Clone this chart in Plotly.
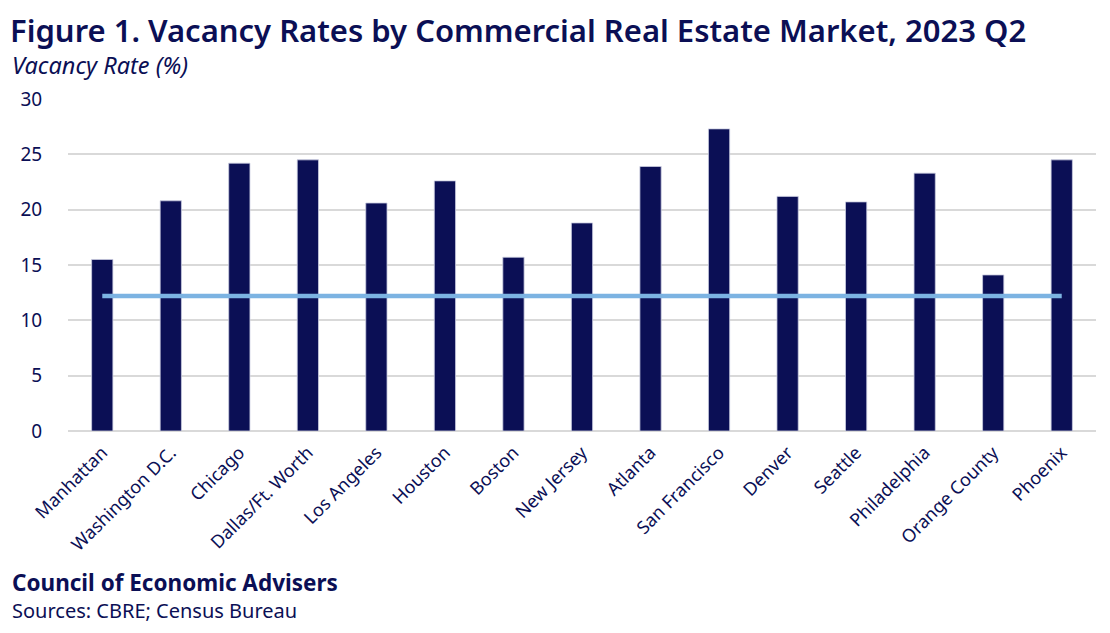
import plotly.graph_objects as go

markets = ["Manhattan", "Washington D.C.", "Chicago", "Dallas/Ft. Worth", "Los Angeles",
           "Houston", "Boston", "New Jersey", "Atlanta", "San Francisco", "Denver",
           "Seattle", "Philadelphia", "Orange County", "Phoenix"]
vacancy = [15.5, 20.8, 24.2, 24.5, 20.6, 22.6, 15.7, 18.8, 23.9, 27.3, 21.2, 20.7, 23.3, 14.1, 24.5]
reference_rate = 12.2

NAVY = "#0b0f55"
FONT = "Noto Sans"

# page body has an 8px default margin; offsets below compensate
OFF = 8
W, H = 1110, 633
L, T, R, B = 66 - OFF, 99 - OFF, W - (1096 - OFF), H - (431 - OFF)

fig = go.Figure()
fig.add_trace(go.Bar(
    x=markets, y=vacancy,
    marker=dict(color=NAVY, line=dict(color="#c9cbe0", width=0.8)),
    showlegend=False,
))
fig.add_trace(go.Scatter(
    x=markets, y=[reference_rate] * len(markets),
    mode="lines", line=dict(color="#7cb3e2", width=4.5),
    showlegend=False,
))

fig.update_layout(
    width=W, height=H,
    paper_bgcolor="white", plot_bgcolor="white",
    margin=dict(l=L, r=R, t=T, b=B),
    bargap=0.69,
    font=dict(family=FONT, color=NAVY),
    xaxis=dict(
        tickangle=-45, tickfont=dict(size=18, color=NAVY, family=FONT),
        ticks="outside", ticklen=3, tickcolor="rgba(0,0,0,0)",
        showline=False, showgrid=False,
    ),
    yaxis=dict(
        range=[0, 30], tickvals=[0, 5, 10, 15, 20, 25, 30],
        tickfont=dict(size=19, color=NAVY, family=FONT),
        showgrid=True, gridcolor="#d9d9d9", gridwidth=1.5,
        zeroline=True, zerolinecolor="#d9d9d9", zerolinewidth=1.5,
        ticks="outside", ticklen=21, tickcolor="rgba(0,0,0,0)",
        showline=False,
    ),
)

plot_w, plot_h = W - L - R, H - T - B
def px(xp):
    return (xp - OFF - L) / plot_w
def py(yp):
    return (H - B - (yp - OFF)) / plot_h

fig.add_annotation(text="Figure 1. Vacancy Rates by Commercial Real Estate Market, 2023 Q2",
                   xref="paper", yref="paper", x=px(6), y=py(30),
                   xanchor="left", yanchor="middle", showarrow=False,
                   font=dict(size=31, color=NAVY, family=FONT, weight=600))
fig.add_annotation(text="<i>Vacancy Rate (%)</i>",
                   xref="paper", yref="paper", x=px(8), y=py(65),
                   xanchor="left", yanchor="middle", showarrow=False,
                   font=dict(size=23.5, color=NAVY, family=FONT))
fig.add_annotation(text="<b>Council of Economic Advisers</b>",
                   xref="paper", yref="paper", x=px(8), y=py(582),
                   xanchor="left", yanchor="middle", showarrow=False,
                   font=dict(size=22.5, color=NAVY, family=FONT))
fig.add_annotation(text="Sources: CBRE; Census Bureau",
                   xref="paper", yref="paper", x=px(8), y=py(610),
                   xanchor="left", yanchor="middle", showarrow=False,
                   font=dict(size=20, color=NAVY, family=FONT))

fig.write_html("out.html")
